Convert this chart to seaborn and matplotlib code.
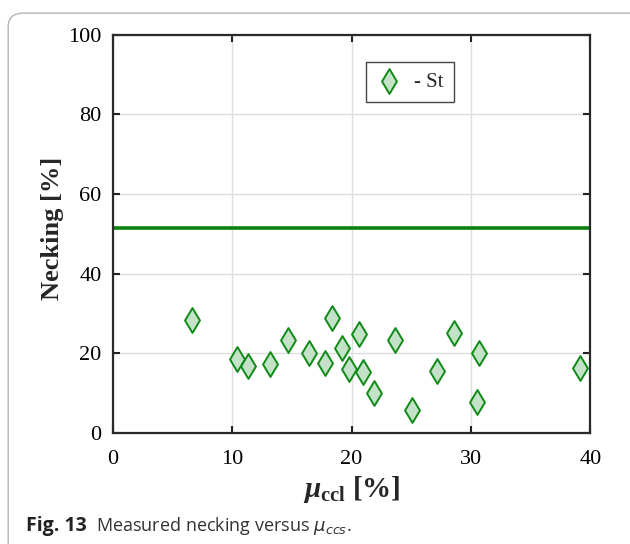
import matplotlib
matplotlib.use("Agg")
import matplotlib.pyplot as plt
import seaborn as sns
import pandas as pd
from matplotlib.patches import FancyBboxPatch

# Data
mu_ccl = [6.6, 10.4, 11.3, 13.2, 14.7, 16.4, 17.8, 18.4, 19.2, 19.8,
          20.6, 21.0, 21.9, 23.6, 25.1, 27.2, 28.6, 30.5, 30.7, 39.1]
necking = [28.3, 18.7, 16.8, 17.4, 23.3, 20.1, 17.6, 28.9, 21.4, 16.2,
           24.8, 15.3, 10.0, 23.3, 5.9, 15.7, 25.2, 7.7, 20.2, 16.3]
reference_necking = 51.6
x_ticks = [0, 10, 20, 30, 40]
y_ticks = [0, 20, 40, 60, 80, 100]

df = pd.DataFrame({"mu": mu_ccl, "necking": necking})

sns.set_theme(style="white")
plt.rcParams["font.family"] = ["Liberation Serif", "DejaVu Serif"]
plt.rcParams["mathtext.fontset"] = "custom"
plt.rcParams["mathtext.rm"] = "Liberation Serif:bold"
plt.rcParams["mathtext.it"] = "Liberation Serif:italic:bold"
plt.rcParams["mathtext.bf"] = "Liberation Serif:bold"

green_edge = "#0e8a16"
green_face = "#c4e2c7"
line_green = "#0a820f"

fig = plt.figure(figsize=(6.3, 5.44), dpi=100)
ax = fig.add_axes([0.179, 0.204, 0.758, 0.732])

# rounded card frame around the figure
frame = FancyBboxPatch((0.013, -0.1), 1.2, 1.076, boxstyle="round,pad=0,rounding_size=0.025",
                       transform=fig.transFigure, facecolor="none", edgecolor="#b5b5b5",
                       linewidth=1.0, clip_on=False)
fig.patches.append(frame)

ax.axhline(reference_necking, color=line_green, linewidth=2.6, zorder=2)
sns.scatterplot(data=df, x="mu", y="necking", marker="d", s=160,
                color=green_face, edgecolor=green_edge, linewidth=1.4,
                label="- St", ax=ax, zorder=3)

ax.set_xlim(0, 40)
ax.set_ylim(0, 100)
ax.set_xticks(x_ticks)
ax.set_yticks(y_ticks)
ax.grid(True, color="#dddddd", linewidth=1.0)
ax.set_axisbelow(True)
ax.tick_params(direction="in", length=5, width=1.5, color="#222222",
               labelsize=16, top=True, right=True, bottom=True, left=True,
               labelcolor="black")
ax.tick_params(axis="x", pad=12)
ax.tick_params(axis="y", pad=8)
for sp in ax.spines.values():
    sp.set_color("#2a2a2a")
    sp.set_linewidth(1.6)

ax.set_ylabel("Necking [%]", fontsize=19, fontweight="bold")
ax.yaxis.set_label_coords(-0.102, 0.515)
ax.set_xlabel(r"$\mu_{\mathrm{ccl}}$ [%]", fontsize=21, fontweight="bold",
              labelpad=4, math_fontfamily="custom")

leg = ax.legend(loc="upper left", bbox_to_anchor=(0.530, 0.932), fancybox=False,
                edgecolor="#444444", framealpha=1, fontsize=15, borderaxespad=0,
                handletextpad=0.6, borderpad=0.5, handlelength=1.2)
leg.get_frame().set_linewidth(1.0)

cap_font = ["Open Sans", "DejaVu Sans"]
fig.text(0.042, 0.024, "Fig. 13", fontsize=14, fontweight="bold", va="baseline",
         family=cap_font, color="#222222")
fig.text(0.153, 0.024, "Measured necking versus $\\mu_{ccs}$.", fontsize=13,
         va="baseline", family=cap_font, color="#333333",
         math_fontfamily="dejavusans")

fig.savefig("out.png", dpi=100)
